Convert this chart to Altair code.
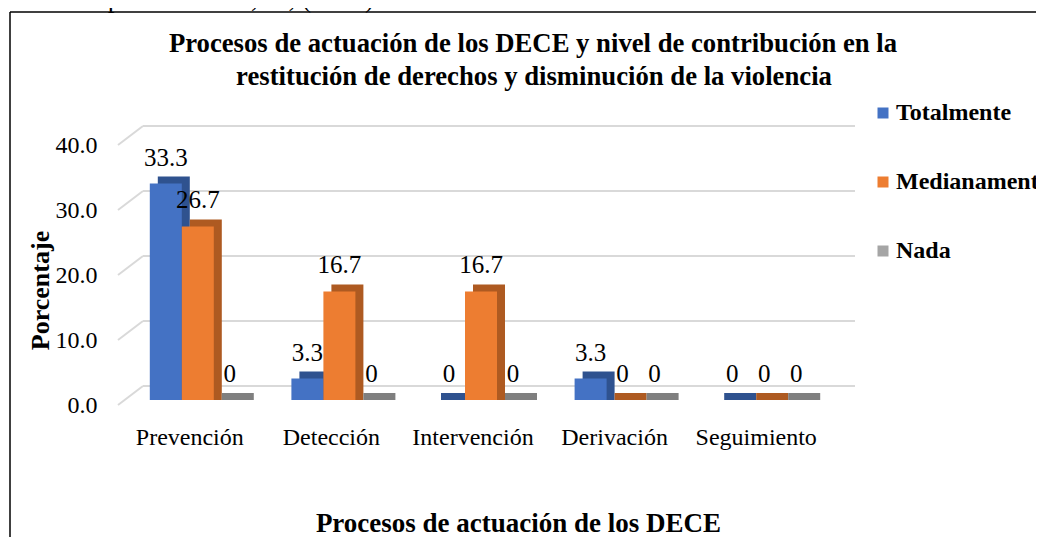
import altair as alt
import pandas as pd

categories = ["Prevención", "Detección", "Intervención", "Derivación", "Seguimiento"]
series = ["Totalmente", "Medianamente", "Nada"]
totalmente = [33.3, 3.3, 0, 3.3, 0]
medianamente = [26.7, 16.7, 16.7, 0, 0]
nada = [0, 0, 0, 0, 0]
y_ticks = [0, 10, 20, 30, 40]
title_lines = ["Procesos de actuación de los DECE y nivel de contribución en la",
               "restitución de derechos y disminución de la violencia"]
source_text = "Elaborado por: Ordoñez, M, (2020)"

front_colors = ["#4472C4", "#ED7D31", "#A5A5A5"]
side_colors = ["#2F528F", "#AE5A21", "#7F7F7F"]
front_offsets = [-24, 8, 40]

FONT = "Liberation Serif"

rows = []
for s, vals in zip(series, [totalmente, medianamente, nada]):
    for c, v in zip(categories, vals):
        rows.append({"cat": c, "serie": s, "valor": v})
df = pd.DataFrame(rows)
ticks_df = pd.DataFrame({"t": y_ticks})
one = pd.DataFrame({"a": [0]})

W, H = 708, 260

xenc = alt.X("cat:N", sort=categories,
             scale=alt.Scale(paddingInner=0, paddingOuter=0),
             axis=alt.Axis(title="Procesos de actuación de los DECE", labelFont=FONT,
                           labelFontSize=24, labelColor="#000", labelPadding=25,
                           labelAngle=0, ticks=False, domain=False, grid=False,
                           titleFont=FONT, titleFontSize=27, titleFontWeight="bold",
                           titleColor="#000", titleX=399, titleY=131,
                           titleBaseline="alphabetic", titleAlign="center"))
yscale = alt.Scale(domain=[0, 40], nice=False)
yaxis = alt.Axis(title="Porcentaje", values=y_ticks, format=".1f", labelFont=FONT,
                 labelFontSize=24, labelColor="#000", labelPadding=22, labelOffset=5,
                 ticks=False, domain=False, grid=False,
                 titleFont=FONT, titleFontSize=26, titleFontWeight="bold",
                 titleColor="#000", titleX=-79, titleY=150, titleAngle=-90,
                 titleBaseline="middle", titleAlign="center")

base = alt.Chart(df)

grid_back = alt.Chart(ticks_df).mark_rule(color="#D9D9D9", strokeWidth=2, yOffset=-14).encode(
    y=alt.Y("t:Q", scale=yscale, axis=yaxis),
    x=alt.value(24), x2=alt.value(736))
grid_slant = alt.Chart(ticks_df).mark_rule(color="#D9D9D9", strokeWidth=2, yOffset=5, y2Offset=-14).encode(
    y=alt.Y("t:Q", scale=yscale), y2="t:Q",
    x=alt.value(-1), x2=alt.value(24))

layers = [grid_back, grid_slant]
for i, s in enumerate(series):
    sub = base.transform_filter(alt.datum.serie == s)
    side = sub.mark_bar(width=32, xOffset=front_offsets[i] + 8, yOffset=-7, y2Offset=0.001,
                        color=side_colors[i]).encode(
        x=xenc, y=alt.Y("valor:Q", scale=yscale, axis=yaxis), y2=alt.datum(0))
    front = sub.mark_bar(width=32, xOffset=front_offsets[i]).encode(
        x=xenc, y=alt.Y("valor:Q", scale=yscale, axis=yaxis),
        color=alt.Color("serie:N", sort=series,
                        scale=alt.Scale(domain=series, range=front_colors),
                        legend=alt.Legend(title=None, orient="none", legendX=752, legendY=-39,
                                          symbolType="square", symbolSize=121,
                                          symbolStrokeWidth=0, labelFont=FONT,
                                          labelFontSize=24, labelFontWeight="bold",
                                          labelColor="#000", labelLimit=0,
                                          labelOffset=1, rowPadding=45)))
    layers += [side, front]

for i, s in enumerate(series):
    sub = base.transform_filter(alt.datum.serie == s)
    txt = sub.mark_text(font=FONT, fontSize=25, color="#000", dy=-18,
                        xOffset=front_offsets[i], baseline="alphabetic").encode(
        x=xenc, y=alt.Y("valor:Q", scale=yscale),
        text=alt.Text("valor:Q", format="~g"))
    layers.append(txt)

# outer frame (top and left edges; the others fall outside the picture)
frame_top = alt.Chart(one).mark_rule(color="#000", strokeWidth=1.5).encode(
    x=alt.value(-109), x2=alt.value(1200), y=alt.value(-128))
frame_left = alt.Chart(one).mark_rule(color="#000", strokeWidth=1.5).encode(
    x=alt.value(-109), y=alt.value(-128), y2=alt.value(800))
source = alt.Chart(one).mark_text(font=FONT, fontSize=27, color="#000", align="left",
                                  baseline="alphabetic").encode(
    x=alt.value(-129), y=alt.value(-133), text=alt.value(source_text))
title1 = alt.Chart(one).mark_text(font=FONT, fontSize=26.7, fontWeight="bold", color="#000",
                                  align="center", baseline="alphabetic").encode(
    x=alt.value(414), y=alt.value(-88), text=alt.value(title_lines[0]))
title2 = alt.Chart(one).mark_text(font=FONT, fontSize=26.7, fontWeight="bold", color="#000",
                                  align="center", baseline="alphabetic").encode(
    x=alt.value(415), y=alt.value(-55), text=alt.value(title_lines[1]))
layers += [frame_top, frame_left, source, title1, title2]

chart = alt.layer(*layers).properties(
    width=W, height=H,
    background="white",
    autosize=alt.AutoSizeParams(type="none"),
    padding={"left": 111, "top": 132, "right": 209, "bottom": 137},
).configure_view(stroke=None)

chart.save("out.html", embed_options={"renderer": "svg", "actions": False})
